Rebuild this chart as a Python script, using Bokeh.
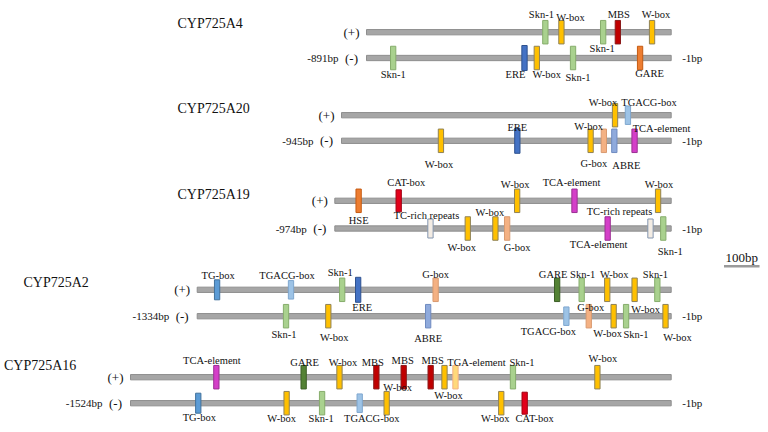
from bokeh.plotting import figure
from bokeh.models import Range1d, ColumnDataSource
from bokeh.core.properties import value
from bokeh.embed import file_html
from bokeh.resources import INLINE

# ---------------- data ----------------
GENES = ["CYP725A4", "CYP725A20", "CYP725A19", "CYP725A2", "CYP725A16"]
LENGTHS = [891, 945, 974, 1334, 1524]

A4_NAMES = ["Skn-1", "W-box", "Skn-1", "MBS", "W-box",
            "Skn-1", "ERE", "W-box", "Skn-1", "GARE"]
A4_STRAND = ["+", "+", "+", "+", "+", "-", "-", "-", "-", "-"]
A4_POS = [-368, -321, -199, -156, -56, -813, -429, -393, -287, -91]

A20_NAMES = ["W-box", "TGACG-box", "W-box", "ERE", "W-box", "G-box", "ABRE", "TCA-element"]
A20_STRAND = ["+", "+", "-", "-", "-", "-", "-", "-"]
A20_POS = [-161, -124, -660, -441, -231, -193, -163, -105]

A19_NAMES = ["HSE", "CAT-box", "W-box", "TCA-element", "W-box",
             "TC-rich repeats", "W-box", "W-box", "G-box", "TCA-element",
             "TC-rich repeats", "Skn-1"]
A19_STRAND = ["+", "+", "+", "+", "+", "-", "-", "-", "-", "-", "-", "-"]
A19_POS = [-905, -789, -446, -280, -38, -697, -589, -509, -475, -184, -60, -23]

A2_NAMES = ["TG-box", "TGACG-box", "Skn-1", "ERE", "G-box", "GARE", "Skn-1",
            "W-box", "W-box", "Skn-1",
            "Skn-1", "W-box", "ABRE", "TGACG-box", "G-box", "W-box", "Skn-1", "W-box"]
A2_STRAND = ["+"] * 10 + ["-"] * 8
A2_POS = [-1278, -1070, -926, -881, -663, -321, -252, -180, -103, -39,
          -1084, -965, -684, -295, -232, -162, -127, -16]

A16_NAMES = ["TCA-element", "GARE", "W-box", "MBS", "MBS", "MBS", "W-box",
             "TGA-element", "Skn-1", "W-box",
             "TG-box", "W-box", "Skn-1", "TGACG-box", "W-box", "W-box", "CAT-box"]
A16_STRAND = ["+"] * 10 + ["-"] * 7
A16_POS = [-1282, -1036, -935, -831, -754, -678, -639, -608, -446, -208,
           -1333, -1084, -984, -878, -802, -479, -413]

SCALE_BP = 100

# ---------------- layout (label offsets in px) ----------------
A4_DX = [-4, 9, -1, 1, 4, 0, -9, 10, 5, 9.5]
A4_DY = [-17.7, -15, 16, -17.7, -17.7, 16.5, 16.5, 16.5, 19.2, 15.8]
A20_DX = [-12, 21, -2, 0, -2, -10, 12, 27]
A20_DY = [-12.7, -12.7, 23.7, -13.3, -14, 22.7, 25, -12]
A19_DX = [0, 7.5, -2, -3, 1, -4, -6, -5.5, 10, -9, -31, 7]
A19_DY = [19.4, -18.3, -16.3, -18.3, -16.3, -12.7, 19.3, -15.7, 19, 16, -16.7, 22.7]
A2_DX = [1, -4, -2, 4, 0, -4, 1, 7, 11, -2, -2, 6, 0, -18, 2, -6, 10, 12]
A2_DY = [-14.3, -14.3, -17.6, 17.4, -15.3, -15.3, -15.3, -15.3, 20, -15.3,
         18.3, 21, 22.3, 15.3, -9, 17, 18.3, 21]
A16_DX = [-4.5, 1, 3.5, -3.5, -1, 2, 4, 21, 9, 5.5, 1, -5, -1, 12, 11, -6, 10]
A16_DY = [-16.7, -14.4, -14.4, -14.4, -16.7, -16.7, 18.3, -14.4, -14.4, -18.4,
          14.3, 14.8, 14.8, 15.5, -16, 14.8, 15]

GENE_DATA = [
    (A4_NAMES, A4_STRAND, A4_POS, A4_DX, A4_DY),
    (A20_NAMES, A20_STRAND, A20_POS, A20_DX, A20_DY),
    (A19_NAMES, A19_STRAND, A19_POS, A19_DX, A19_DY),
    (A2_NAMES, A2_STRAND, A2_POS, A2_DX, A2_DY),
    (A16_NAMES, A16_STRAND, A16_POS, A16_DX, A16_DY),
]

W, H = 760, 424
LINE_START_PX = [366, 341, 334.3, 196.7, 130]
LINE_END_PX = 670.7
PLUS_Y = [31.7, 114.7, 200.3, 289.3, 376.7]
MINUS_Y = [57.5, 140.3, 228, 315.7, 402.7]
TITLE_X = [177, 177, 177, 23, 3.5]
TITLE_Y = [23.3, 108.3, 194, 281.7, 365]

FILL = {
    "Skn-1": "#a9d18e", "W-box": "#ffc000", "MBS": "#c00000", "ERE": "#4472c4",
    "GARE": "#548235", "TGACG-box": "#9dc3e6", "G-box": "#f4b183", "ABRE": "#8faadc",
    "TCA-element": "#d43fc8", "HSE": "#ed7d31", "CAT-box": "#e2001a",
    "TC-rich repeats": "#f3ece4", "TG-box": "#5b9bd5", "TGA-element": "#ffd97a",
}
EDGE = {
    "Skn-1": "#86ad6c", "W-box": "#8f8257", "MBS": "#8b1a1a", "ERE": "#2f528f",
    "GARE": "#3b5e25", "TGACG-box": "#7fa7cf", "G-box": "#d99a70", "ABRE": "#6f8bc0",
    "TCA-element": "#9b2f93", "HSE": "#c55a11", "CAT-box": "#a00012",
    "TC-rich repeats": "#8497b0", "TG-box": "#41719c", "TGA-element": "#f4b183",
}
OVERRIDE = {("CYP725A4", "GARE"): ("#ed7d31", "#c55a11")}
HEIGHT = {"ERE": 25, "TGACG-box": 18.5, "TC-rich repeats": 19, "TG-box": 20, "CAT-box": 22}

SERIF = value("Liberation Serif")

p = figure(width=W, height=H, x_range=Range1d(0, W), y_range=Range1d(H, 0),
           output_backend="svg", toolbar_location=None,
           x_axis_type=None, y_axis_type=None, min_border=0)
p.outline_line_color = None
p.background_fill_color = "white"

for i, g in enumerate(GENES):
    L = LENGTHS[i]
    s = (LINE_END_PX - LINE_START_PX[i]) / L
    p.extra_x_ranges[g] = Range1d(-LINE_END_PX / s, (W - LINE_END_PX) / s)

    # strand lines
    p.hbar(y=[PLUS_Y[i], MINUS_Y[i]], left=-L, right=0, height=5.3, x_range_name=g,
           fill_color="#a6a6a6", line_color="#8e8e8e", line_width=1)

    names, strand, pos, dx, dy = GENE_DATA[i]
    ys, lys, fills, edges, hs = [], [], [], [], []
    for n, st, d in zip(names, strand, dy):
        base = PLUS_Y[i] if st == "+" else MINUS_Y[i]
        ys.append(base)
        lys.append(base + d)
        f, e = OVERRIDE.get((g, n), (FILL[n], EDGE[n]))
        fills.append(f)
        edges.append(e)
        hs.append(HEIGHT.get(n, 23.5))
    src = ColumnDataSource(dict(x=pos, y=ys, ly=lys, name=names, dx=dx,
                                fill=fills, edge=edges, h=hs))
    p.rect(x="x", y="y", width=5.3, height="h", width_units="screen", source=src,
           x_range_name=g, fill_color="fill", line_color="edge", line_width=1)
    p.text(x="x", y="ly", text="name", x_offset="dx", source=src, x_range_name=g,
           text_align="center", text_baseline="middle", text_font=SERIF,
           text_font_size="10.5px", text_color="#111111")

    # strand markers and end labels
    p.text(x=[-L, -L], y=[PLUS_Y[i], MINUS_Y[i]], text=["(+)", "(-)"], x_offset=-15,
           x_range_name=g, text_align="center", text_baseline="middle",
           text_font=SERIF, text_font_size="13px", text_color="#111111")
    p.text(x=[-L], y=[MINUS_Y[i]], text=[f"-{L}bp"], x_offset=-28, x_range_name=g,
           text_align="right", text_baseline="middle", text_font=SERIF,
           text_font_size="11px", text_color="#111111")
    p.text(x=[0], y=[MINUS_Y[i]], text=["-1bp"], x_offset=11, x_range_name=g,
           text_align="left", text_baseline="middle", text_font=SERIF,
           text_font_size="11px", text_color="#111111")

# gene titles
p.text(x=TITLE_X, y=TITLE_Y, text=GENES, text_align="left", text_baseline="middle",
       text_font=SERIF, text_font_size="14px", text_color="#111111")

# scale bar (drawn on CYP725A2 scale)
s2 = (LINE_END_PX - LINE_START_PX[3]) / LENGTHS[3]
x0 = (723.5 - LINE_END_PX) / s2
p.segment(x0=[x0], y0=[265.7], x1=[x0 + SCALE_BP], y1=[265.7], x_range_name="CYP725A2",
          line_color="#9a9a9a", line_width=2.5)
p.text(x=[x0 + SCALE_BP / 2], y=[256.7], text=[f"{SCALE_BP}bp"], x_range_name="CYP725A2",
       text_align="center", text_baseline="middle", text_font=SERIF,
       text_font_size="13px", text_color="#111111")

open("out.html", "w").write(file_html(p, INLINE))
